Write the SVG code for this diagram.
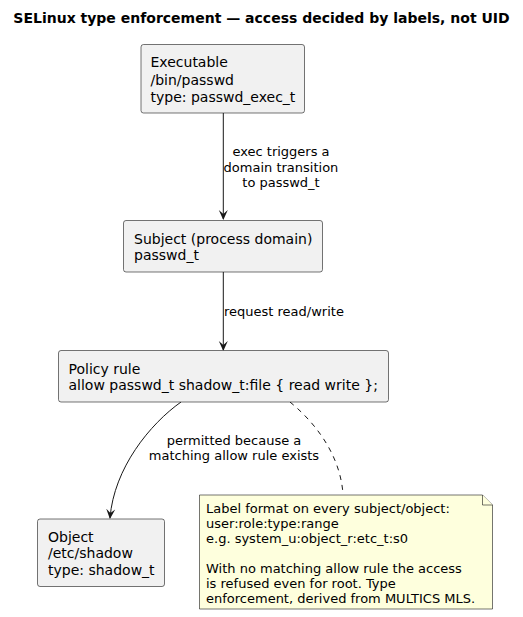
<svg xmlns="http://www.w3.org/2000/svg" width="523" height="617" viewBox="0 0 523 617">
<style>
text{font-family:"DejaVu Sans",sans-serif;fill:#000}
.t{font-size:14px;font-weight:bold}
.n{font-size:14px}
.l{font-size:13px}
.box{fill:#F1F1F1;stroke:#181818;stroke-width:0.6}
.note{fill:#FEFFDD;stroke:#181818;stroke-width:0.6}
.edge{fill:none;stroke:#181818;stroke-width:1}
</style>
<defs>
<marker id="ah" viewBox="0 0 10 10" refX="9" refY="5" markerWidth="10" markerHeight="10" markerUnits="userSpaceOnUse" orient="auto">
<path d="M10,5 L0,0.5 L4,5 L0,9.5 Z" fill="#181818"/>
</marker>
</defs>
<rect width="523" height="617" fill="#fff"/>
<text class="t" x="261.5" y="23" text-anchor="middle">SELinux type enforcement — access decided by labels, not UID</text>
<g id="connectors">
<path class="edge" d="M223.3,113 L223.3,219" marker-end="url(#ah)"/>
<text class="l" x="281" y="156" text-anchor="middle">exec triggers a</text>
<text class="l" x="281" y="171.5" text-anchor="middle">domain transition</text>
<text class="l" x="281" y="187" text-anchor="middle">to passwd_t</text>
<path class="edge" d="M223.3,272 L223.3,350" marker-end="url(#ah)"/>
<text class="l" x="224" y="315.5">request read/write</text>
<path class="edge" d="M181,402 C150,424 114,468 110,518" marker-end="url(#ah)"/>
<text class="l" x="234" y="444.5" text-anchor="middle">permitted because a</text>
<text class="l" x="234" y="460" text-anchor="middle">matching allow rule exists</text>
<path class="edge" d="M290,402 C312,420 340,452 343,494" stroke-dasharray="5,5"/>
</g>
<g id="executable">
<rect class="box" x="141" y="44.5" width="163.5" height="68.5" rx="2.5"/>
<text class="n" x="150.5" y="67">Executable</text>
<text class="n" x="150.5" y="84.5">/bin/passwd</text>
<text class="n" x="150.5" y="101.5">type: passwd_exec_t</text>
</g>
<g id="subject">
<rect class="box" x="123.5" y="220.5" width="199" height="51.5" rx="2.5"/>
<text class="n" x="134" y="243.5">Subject (process domain)</text>
<text class="n" x="134" y="260">passwd_t</text>
</g>
<g id="policy">
<rect class="box" x="58.5" y="350.5" width="330" height="51.5" rx="2.5"/>
<text class="n" x="68.5" y="373.5">Policy rule</text>
<text class="n" x="68.5" y="390">allow passwd_t shadow_t:file { read write };</text>
</g>
<g id="object">
<rect class="box" x="37.5" y="519" width="127" height="67.5" rx="2.5"/>
<text class="n" x="48" y="541.5">Object</text>
<text class="n" x="48" y="558">/etc/shadow</text>
<text class="n" x="48" y="574.5">type: shadow_t</text>
</g>
<g id="note">
<path class="note" d="M199.5,495 L482.5,495 L492.5,505 L492.5,609 L199.5,609 Z"/>
<path class="note" d="M482.5,495 L482.5,505 L492.5,505"/>
<text class="l" x="206" y="512.5">Label format on every subject/object:</text>
<text class="l" x="206" y="527.5">user:role:type:range</text>
<text class="l" x="206" y="542.5">e.g. system_u:object_r:etc_t:s0</text>
<text class="l" x="206" y="572.5">With no matching allow rule the access</text>
<text class="l" x="206" y="587.5">is refused even for root. Type</text>
<text class="l" x="206" y="602.5">enforcement, derived from MULTICS MLS.</text>
</g>
</svg>
